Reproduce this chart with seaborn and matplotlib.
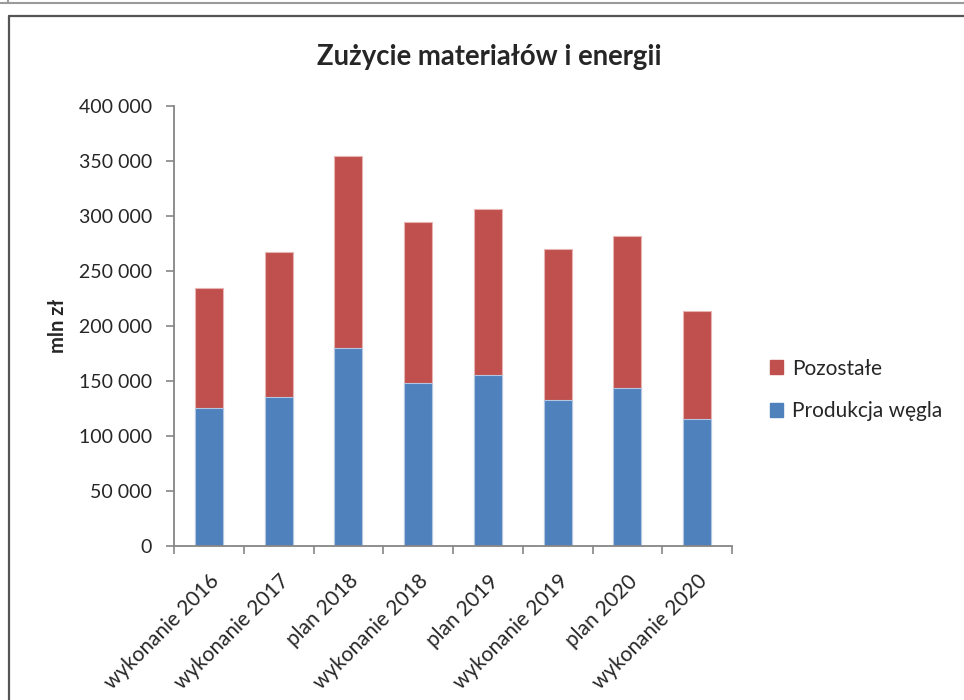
import matplotlib
matplotlib.use("Agg")
import matplotlib.pyplot as plt
import matplotlib.patches as mpatches
import numpy as np
import pandas as pd
import seaborn as sns

# --- DATA (mln zl) ---
categories = ['wykonanie 2016', 'wykonanie 2017', 'plan 2018', 'wykonanie 2018',
              'plan 2019', 'wykonanie 2019', 'plan 2020', 'wykonanie 2020']
produkcja_wegla = [125800, 135800, 180400, 148500, 155500, 133100, 143400, 115200]
pozostale = [109100, 131200, 174500, 146400, 150600, 136600, 138800, 98400]
y_ticks = [0, 50000, 100000, 150000, 200000, 250000, 300000, 350000, 400000]

BLUE = '#4F81BD'
RED = '#C0504D'
AXIS = '#868686'

df = pd.DataFrame({'kategoria': categories,
                   'Produkcja węgla': produkcja_wegla,
                   'Pozostałe': pozostale})
df['suma'] = df['Produkcja węgla'] + df['Pozostałe']

sns.set_style('white')
plt.rcParams['font.family'] = ['Lato', 'DejaVu Sans']

fig = plt.figure(figsize=(9.64, 7.0), dpi=100)
ax = fig.add_axes([174 / 964, 1 - 546 / 700, (732 - 174) / 964, (546 - 106) / 700])

# stacked bars: total (red) first, blue on top of it from zero
sns.barplot(data=df, x='kategoria', y='suma', color=RED, width=0.4,
            saturation=1, edgecolor='#e8b4b3', linewidth=0.8, ax=ax)
sns.barplot(data=df, x='kategoria', y='Produkcja węgla', color=BLUE, width=0.4,
            saturation=1, edgecolor='#b3c7e2', linewidth=0.8, ax=ax)

ax.set_xlim(-0.5, len(categories) - 0.5)
ax.set_ylim(0, 400000)
ax.set_yticks(y_ticks)
ax.set_yticklabels([f'{v:,}'.replace(',', ' ') for v in y_ticks], fontsize=14)

# category labels centered, tick marks between categories (Excel style)
ax.set_xticks(range(len(categories)))
ax.set_xticklabels(categories, fontsize=15, rotation=45, ha='right',
                   rotation_mode='anchor')
ax.set_xticks(np.arange(-0.5, len(categories)), minor=True)
ax.tick_params(axis='x', which='major', length=0, pad=18)
ax.tick_params(axis='x', which='minor', length=6, width=1.2, color=AXIS,
               direction='out', bottom=True)
ax.tick_params(axis='y', length=6, width=1.2, color=AXIS, direction='out',
               left=True, pad=10)

ax.set_xlabel('')
ax.set_ylabel('')
fig.text(58 / 964, 1 - 326 / 700, 'mln zł', fontsize=14.5, fontweight='bold',
         rotation=90, ha='center', va='center')

for side in ['top', 'right']:
    ax.spines[side].set_visible(False)
for side in ['left', 'bottom']:
    ax.spines[side].set_color(AXIS)
    ax.spines[side].set_linewidth(1.3)

fig.text(489 / 964, 1 - 57 / 700, 'Zużycie materiałów i energii',
         fontsize=19.8, fontweight='bold', ha='center', va='center')

handles = [mpatches.Patch(color=RED, label='Pozostałe'),
           mpatches.Patch(color=BLUE, label='Produkcja węgla')]
fig.legend(handles=handles, loc='center left',
           bbox_to_anchor=(751 / 964, 1 - 390 / 700), frameon=False,
           fontsize=15, handlelength=0.65, handleheight=0.65,
           handletextpad=0.4, labelspacing=1.1)

# outer chart frame
fig.add_artist(plt.Line2D([0, 1], [1 - 2.5 / 700] * 2, color='#9a9a9a', lw=1.5,
                          transform=fig.transFigure))
fig.add_artist(plt.Line2D([7.5 / 964, 7.5 / 964], [1, 1 - 2.5 / 700], color='#9a9a9a',
                          lw=1.5, transform=fig.transFigure))
fig.add_artist(plt.Line2D([8.5 / 964, 1], [1 - 16 / 700] * 2, color='#555555', lw=1.6,
                          transform=fig.transFigure))
fig.add_artist(plt.Line2D([8.5 / 964, 8.5 / 964], [0, 1 - 16 / 700], color='#555555',
                          lw=1.6, transform=fig.transFigure))

fig.savefig('out.png', dpi=100, facecolor='white')
